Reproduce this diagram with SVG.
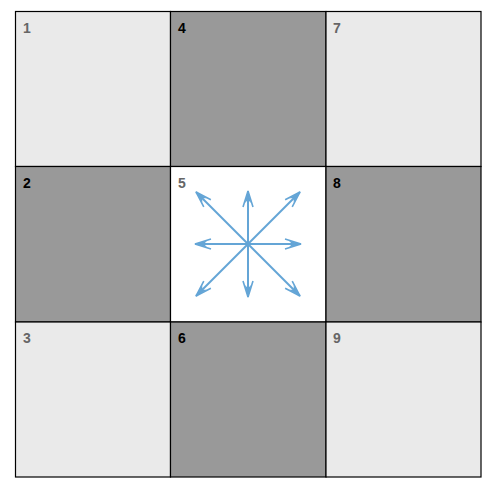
<svg xmlns="http://www.w3.org/2000/svg" width="487" height="483" viewBox="0 0 487 483">
<style>
.light{fill:#eaeaea;stroke:#000;stroke-width:1.2}
.dark{fill:#999999;stroke:#000;stroke-width:1.2}
.white{fill:#ffffff;stroke:#000;stroke-width:1.2}
.lbl{font-family:"Liberation Sans",Arial,sans-serif;font-size:14px;font-weight:bold}
.g{fill:#666666}
.k{fill:#000000}
.arr{stroke:#64a5d6;stroke-width:2;fill:none;marker-end:url(#ah)}
</style>
<defs>
<marker id="ah" markerUnits="userSpaceOnUse" viewBox="-18 -7 20 14" refX="0" refY="0" markerWidth="20" markerHeight="14" orient="auto" overflow="visible">
<path d="M0,0 L-16,-5 M0,0 L-16,5" stroke="#64a5d6" stroke-width="1.6" fill="none"/>
<path d="M1,0 L-12,-3.2 L-9,0 L-12,3.2 Z" fill="#64a5d6"/>
</marker>
</defs>
<g id="cell1"><rect class="light" x="15.5" y="11.5" width="155" height="155"/><text class="lbl g" x="23" y="33">1</text></g>
<g id="cell4"><rect class="dark" x="170.5" y="11.5" width="155.5" height="155"/><text class="lbl k" x="178" y="33">4</text></g>
<g id="cell7"><rect class="light" x="326" y="11.5" width="155" height="155"/><text class="lbl g" x="333" y="33">7</text></g>
<g id="cell2"><rect class="dark" x="15.5" y="166.5" width="155" height="155.5"/><text class="lbl k" x="23" y="188">2</text></g>
<g id="cell5"><rect class="white" x="170.5" y="166.5" width="155.5" height="155.5"/><text class="lbl g" x="178" y="188">5</text></g>
<g id="cell8"><rect class="dark" x="326" y="166.5" width="155" height="155.5"/><text class="lbl k" x="333" y="188">8</text></g>
<g id="cell3"><rect class="light" x="15.5" y="322" width="155" height="155"/><text class="lbl g" x="23" y="343">3</text></g>
<g id="cell6"><rect class="dark" x="170.5" y="322" width="155.5" height="155"/><text class="lbl k" x="178" y="343">6</text></g>
<g id="cell9"><rect class="light" x="326" y="322" width="155" height="155"/><text class="lbl g" x="333" y="343">9</text></g>
<g id="connectors">
<line class="arr" x1="248" y1="244" x2="248" y2="191"/>
<line class="arr" x1="248" y1="244" x2="248" y2="297"/>
<line class="arr" x1="248" y1="244" x2="195" y2="244"/>
<line class="arr" x1="248" y1="244" x2="301" y2="244"/>
<line class="arr" x1="248" y1="244" x2="196" y2="192"/>
<line class="arr" x1="248" y1="244" x2="300" y2="192"/>
<line class="arr" x1="248" y1="244" x2="196" y2="296"/>
<line class="arr" x1="248" y1="244" x2="300" y2="296"/>
</g>
</svg>
